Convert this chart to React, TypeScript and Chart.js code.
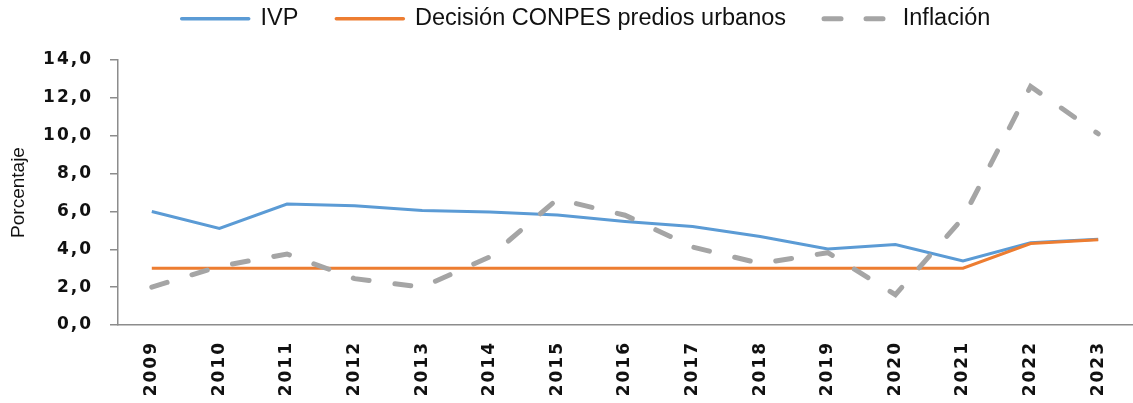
import React, { useEffect, useRef } from "react";
import { Chart, registerables } from "chart.js";

Chart.register(...registerables);

const years = ["2009", "2010", "2011", "2012", "2013", "2014", "2015", "2016", "2017", "2018", "2019", "2020", "2021", "2022", "2023"];
const ivp = [6.0, 5.1, 6.39, 6.3, 6.05, 5.97, 5.81, 5.47, 5.2, 4.68, 4.01, 4.25, 3.38, 4.34, 4.53];
const conpes = [3, 3, 3, 3, 3, 3, 3, 3, 3, 3, 3, 3, 3, 4.3, 4.5];
const inflacion = [2.0, 3.1, 3.75, 2.45, 2.0, 3.6, 6.65, 5.8, 4.12, 3.25, 3.82, 1.6, 5.65, 12.6, 10.1];
const seriesNames = ["IVP", "Decisión CONPES predios urbanos", "Inflación"];
const yTitle = "Porcentaje";

const AXIS = "#8c8c8c";
const TICK_FONT = { family: "'DejaVu Sans', Verdana, sans-serif", size: 17, weight: "bold" as const };

const spacingPlugin = {
  id: "spacingPlugin",
  beforeInit(chart: any) {
    const legend = chart.legend;
    if (legend) {
      const fit = legend.fit.bind(legend);
      legend.fit = function () {
        fit();
        this.height = 91;
      };
    }
  },
  afterLayout(chart: any) {
    const legend = chart.legend;
    if (legend) {
      legend.left += 20;
      legend.right += 20;
    }
  },
  beforeDraw(chart: any) {
    for (const id of ["x", "y"]) {
      const s = chart.scales[id];
      if (s && !s._lsPatched) {
        const orig = s.drawLabels.bind(s);
        s.drawLabels = (area: any) => {
          const ctx = chart.ctx as any;
          ctx.save();
          ctx.letterSpacing = "2px";
          orig(area);
          ctx.restore();
        };
        s._lsPatched = true;
      }
    }
  },
};

export default function App() {
  const ref = useRef<HTMLCanvasElement | null>(null);
  useEffect(() => {
    if (!ref.current) return;
    const chart = new Chart(ref.current, {
      type: "line",
      data: {
        labels: years,
        datasets: [
          {
            label: seriesNames[0],
            data: ivp,
            borderColor: "#5B9BD5",
            backgroundColor: "#5B9BD5",
            borderWidth: 3,
            pointRadius: 0,
            tension: 0,
            order: 2,
          },
          {
            label: seriesNames[1],
            data: conpes,
            borderColor: "#ED7D31",
            backgroundColor: "#ED7D31",
            borderWidth: 3,
            pointRadius: 0,
            tension: 0,
            order: 1,
          },
          {
            label: seriesNames[2],
            data: inflacion,
            borderColor: "#A5A5A5",
            backgroundColor: "#A5A5A5",
            borderWidth: 5,
            borderDash: [16, 26],
            borderCapStyle: "round",
            pointRadius: 0,
            tension: 0,
            order: 0,
          },
        ],
      },
      options: {
        animation: false,
        responsive: false,
        layout: { padding: { top: -31, right: 1, left: 0, bottom: 0 } },
        plugins: {
          tooltip: { enabled: false },
          legend: {
            position: "top",
            labels: {
              usePointStyle: true,
              pointStyle: "line",
              pointStyleWidth: 67,
              padding: 38,
              color: "#111",
              font: { family: "'Liberation Sans', Arial, sans-serif", size: 23.5 },
              sort: (a: any, b: any) => a.datasetIndex - b.datasetIndex,
              generateLabels: (c: any) => {
                const items = Chart.defaults.plugins.legend.labels.generateLabels(c);
                items.forEach((it: any) => {
                  it.lineWidth = it.datasetIndex === 2 ? 5 : 3.5;
                  it.lineCap = "round";
                  if (it.datasetIndex === 2) {
                    it.lineDash = [17, 25];
                    it.lineDashOffset = 0;
                  }
                });
                return items;
              },
            },
          },
        },
        scales: {
          x: {
            offset: true,
            grid: { display: false },
            border: { display: true, color: AXIS, width: 1.5 },
            ticks: {
              color: "#111",
              font: TICK_FONT,
              minRotation: 90,
              maxRotation: 90,
              padding: 8,
              autoSkip: false,
            },
            afterFit: (s: any) => {
              s.height = 78;
            },
          },
          y: {
            min: 0,
            max: 14,
            border: { display: true, color: AXIS, width: 1.5 },
            grid: {
              display: true,
              drawOnChartArea: false,
              drawTicks: true,
              tickLength: 8,
              color: AXIS,
              lineWidth: 1.5,
            },
            ticks: {
              stepSize: 2,
              color: "#111",
              font: TICK_FONT,
              padding: 17,
              callback: (v: any) => Number(v).toFixed(1).replace(".", ","),
            },
            title: {
              display: true,
              text: yTitle,
              color: "#111",
              font: { family: "'Liberation Sans', Arial, sans-serif", size: 19 },
              padding: { top: 7, bottom: 0 },
            },
            afterFit: (s: any) => {
              s.width = 118;
            },
          },
        },
      },
      plugins: [spacingPlugin],
    });
    return () => chart.destroy();
  }, []);
  return (
    <div style={{ position: "absolute", left: 0, top: 0, width: 1133, height: 403, background: "#fff" }}>
      <canvas ref={ref} width={1133} height={403} style={{ display: "block" }} />
    </div>
  );
}
